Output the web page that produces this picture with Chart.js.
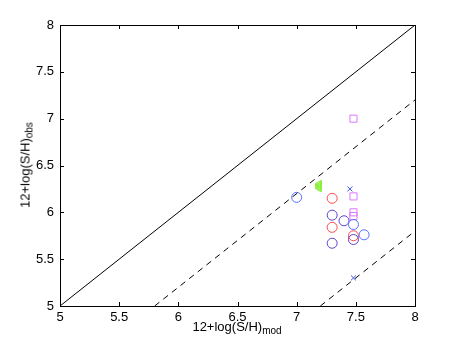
<!DOCTYPE html>
<html><head><meta charset="utf-8">
<script src="https://cdn.jsdelivr.net/npm/chart.js@4"></script>
<style>
html,body{margin:0;padding:0;background:#fff;}
#wrap{position:relative;width:458px;height:345px;font-family:"Liberation Sans",Arial,sans-serif;}
canvas{position:absolute;left:0;top:0;}
.t{position:absolute;font-size:13px;color:#000;white-space:nowrap;line-height:1;}
.t sub{font-size:10px;vertical-align:-3px;line-height:0;}
#xt{left:237px;top:320px;transform:translateX(-50%);}
#yt{left:25px;top:165px;transform:translate(-50%,-50%) rotate(-90deg);}
</style></head>
<body><div id="wrap"><canvas id="c" width="458" height="345"></canvas>
<div class="t" id="xt">12+log(S/H)<sub>mod</sub></div>
<div class="t" id="yt">12+log(S/H)<sub>obs</sub></div></div>
<script>
const xTicks=[5,5.5,6,6.5,7,7.5,8];
const yTicks=[5,5.5,6,6.5,7,7.5,8];
const blueCircles=[[7.0,6.16],[7.48,5.87],[7.57,5.76]];
const purpleCircles=[[7.3,5.97],[7.4,5.91],[7.48,5.71],[7.3,5.67]];
const redCircles=[[7.3,6.15],[7.3,5.84],[7.48,5.75]];
const magentaSquares=[[7.48,7.0],[7.48,6.17],[7.48,6.0],[7.48,5.96]];
const blueCrosses=[[7.45,6.25],[7.48,5.30]];
const greenTriangles=[[7.19,6.255],[7.19,6.265],[7.19,6.275],[7.19,6.285],[7.19,6.295],[7.19,6.305]];
const identityLine=[[5,5],[8,8]];
const upperDashed=[[5.8,5],[8,7.2]];
const lowerDashed=[[7.2,5],[8,5.8]];
const pts=a=>a.map(p=>({x:p[0],y:p[1]}));
function sc(data,color,style,r,rot){return {type:'scatter',data:pts(data),borderColor:color,backgroundColor:'rgba(0,0,0,0)',pointStyle:style,pointRadius:r,pointHoverRadius:r,pointBorderWidth:1,pointRotation:rot||0,showLine:false};}
function ln(data,dash){return {type:'line',data:pts(data),borderColor:'#000',borderWidth:1,borderDash:dash,pointRadius:0,fill:false,tension:0};}
const inTicks={id:'inTicks',afterDraw(ch){const c=ch.ctx,a=ch.chartArea,x=ch.scales.x,y=ch.scales.y;c.save();c.strokeStyle='#000';c.lineWidth=1;c.beginPath();
xTicks.forEach(v=>{const p=Math.round(x.getPixelForValue(v))+0.5;c.moveTo(p,a.bottom);c.lineTo(p,a.bottom-4);c.moveTo(p,a.top);c.lineTo(p,a.top+4);});
yTicks.forEach(v=>{const p=Math.round(y.getPixelForValue(v))+0.5;c.moveTo(a.left,p);c.lineTo(a.left+4,p);c.moveTo(a.right,p);c.lineTo(a.right-4,p);});
c.stroke();c.strokeRect(Math.round(a.left)+0.5,Math.round(a.top)+0.5,Math.round(a.right-a.left),Math.round(a.bottom-a.top));c.restore();}};
new Chart(document.getElementById('c'),{
data:{datasets:[ln(identityLine,[]),ln(upperDashed,[6,5]),ln(lowerDashed,[6,5]),
sc(blueCircles,'#5670ff','circle',5),sc(purpleCircles,'#5a44cc','circle',5),sc(redCircles,'#ff4848','circle',5),
sc(magentaSquares,'#dd77ff','rect',5),sc(blueCrosses,'#3f55ee','crossRot',3.5),sc(greenTriangles,'#8aee3c','triangle',4,-90)]},
options:{responsive:false,animation:false,events:[],
layout:{padding:{top:25,right:43,left:0,bottom:0}},
plugins:{legend:{display:false},tooltip:{enabled:false}},
scales:{
x:{type:'linear',min:5,max:8,afterFit(s){s.height=39;},afterBuildTicks(s){s.ticks=xTicks.map(v=>({value:v}));},
grid:{display:false,drawTicks:false,tickLength:0},border:{display:false},
ticks:{color:'#000',font:{family:'Liberation Sans',size:13},padding:4,maxRotation:0,callback:v=>String(v)}},
y:{type:'linear',min:5,max:8,afterFit(s){s.width=60;},afterBuildTicks(s){s.ticks=yTicks.map(v=>({value:v}));},
grid:{display:false,drawTicks:false,tickLength:0},border:{display:false},
ticks:{color:'#000',font:{family:'Liberation Sans',size:13},padding:6,callback:v=>String(v)}}}},
plugins:[inTicks]});
</script></body></html>
